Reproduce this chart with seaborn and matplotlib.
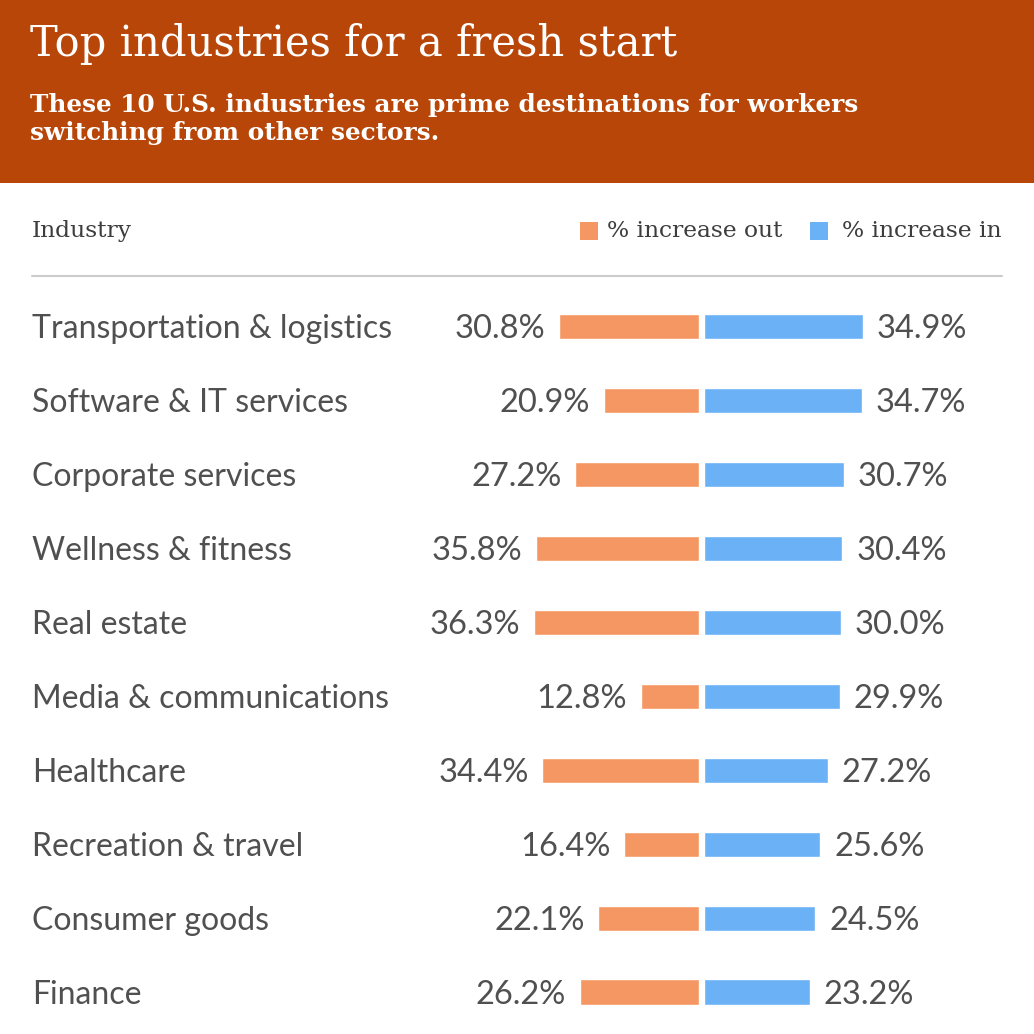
import matplotlib
matplotlib.use("Agg")
import matplotlib.pyplot as plt
import numpy as np
import pandas as pd
import seaborn as sns
from matplotlib.patches import Rectangle

industries = ["Transportation & logistics", "Software & IT services", "Corporate services",
              "Wellness & fitness", "Real estate", "Media & communications", "Healthcare",
              "Recreation & travel", "Consumer goods", "Finance"]
pct_out = [30.8, 20.9, 27.2, 35.8, 36.3, 12.8, 34.4, 16.4, 22.1, 26.2]
pct_in = [34.9, 34.7, 30.7, 30.4, 30.0, 29.9, 27.2, 25.6, 24.5, 23.2]

title = "Top industries for a fresh start"
subtitle = "These 10 U.S. industries are prime destinations for workers\nswitching from other sectors."

ORANGE = "#F59762"
BLUE = "#6AB1F5"
HEADER = "#B74608"
TXT = "#3d3d3d"
LAB = "#505050"

sns.set_theme(style="white")
plt.rcParams['font.family'] = ['Lato', 'DejaVu Sans']

df = pd.DataFrame({'industry': industries, 'out': pct_out, 'in': pct_in})

W = H = 1034
fig = plt.figure(figsize=(10.34, 10.34), dpi=100)

def fx(px):
    return px / W

def fy(py):
    return 1 - py / H

# header band
fig.patches.append(Rectangle((0, fy(183)), 1, 183 / H, transform=fig.transFigure,
                             facecolor=HEADER, edgecolor='none', zorder=0))
fig.text(fx(30), fy(44), title, color='white', fontsize=30, family='DejaVu Serif',
         va='center', ha='left')
fig.text(fx(30), fy(119), subtitle, color='white', fontsize=17.8, family='DejaVu Serif',
         fontweight='bold', va='center', ha='left', linespacing=1.25)

# column header + legend
fig.text(fx(32), fy(231), "Industry", color=TXT, fontsize=16.8, family='DejaVu Serif',
         va='center', ha='left')
fig.patches.append(Rectangle((fx(580), fy(240)), fx(18), 18 / H, transform=fig.transFigure,
                             facecolor=ORANGE, edgecolor='none'))
fig.text(fx(607), fy(231), "% increase out", color=TXT, fontsize=16.8, family='DejaVu Serif',
         va='center', ha='left')
fig.patches.append(Rectangle((fx(810), fy(240)), fx(18), 18 / H, transform=fig.transFigure,
                             facecolor=BLUE, edgecolor='none'))
fig.text(fx(842), fy(231), "% increase in", color=TXT, fontsize=16.8, family='DejaVu Serif',
         va='center', ha='left')
fig.lines.append(plt.Line2D([fx(32), fx(1002)], [fy(276), fy(276)], transform=fig.transFigure,
                            color='#cccccc', lw=1.5))

# bar axes: 4.55 px per percent
scale = 4.55
top_px, bot_px = 289.5, 1029
left_l, right_l = 400, 699
left_r, right_r = 704, 1034
ax_l = fig.add_axes([fx(left_l), fy(bot_px), fx(right_l - left_l), (bot_px - top_px) / H])
ax_r = fig.add_axes([fx(left_r), fy(bot_px), fx(right_r - left_r), (bot_px - top_px) / H])

sns.barplot(data=df, x='out', y='industry', color=ORANGE, width=0.34, saturation=1, ax=ax_l)
sns.barplot(data=df, x='in', y='industry', color=BLUE, width=0.34, saturation=1, ax=ax_r)

ax_l.set_xlim((right_l - left_l) / scale, 0)
ax_r.set_xlim(0, (right_r - left_r) / scale)
for ax in (ax_l, ax_r):
    ax.set_ylim(9.5, -0.5)
    ax.set_xlabel('')
    ax.set_ylabel('')
    ax.set_xticks([])
    ax.set_yticks([])
    ax.patch.set_alpha(0)
    for s in ax.spines.values():
        s.set_visible(False)

lab_kw = dict(color=LAB, fontweight='normal', va='center')
for i, (name, o, n) in enumerate(zip(industries, pct_out, pct_in)):
    ax_l.annotate(f"{o:.1f}%", (o, i), xytext=(-10, -2), textcoords='offset points',
                  ha='right', fontsize=23.5, **lab_kw)
    ax_r.annotate(f"{n:.1f}%", (n, i), xytext=(10, -2), textcoords='offset points',
                  ha='left', fontsize=23.5, **lab_kw)
    ax_l.annotate(name, (fx(32), i), xycoords=('figure fraction', 'data'), xytext=(0, -2),
                  textcoords='offset points', ha='left', fontsize=23, **lab_kw)

fig.savefig('out.png', dpi=100)
